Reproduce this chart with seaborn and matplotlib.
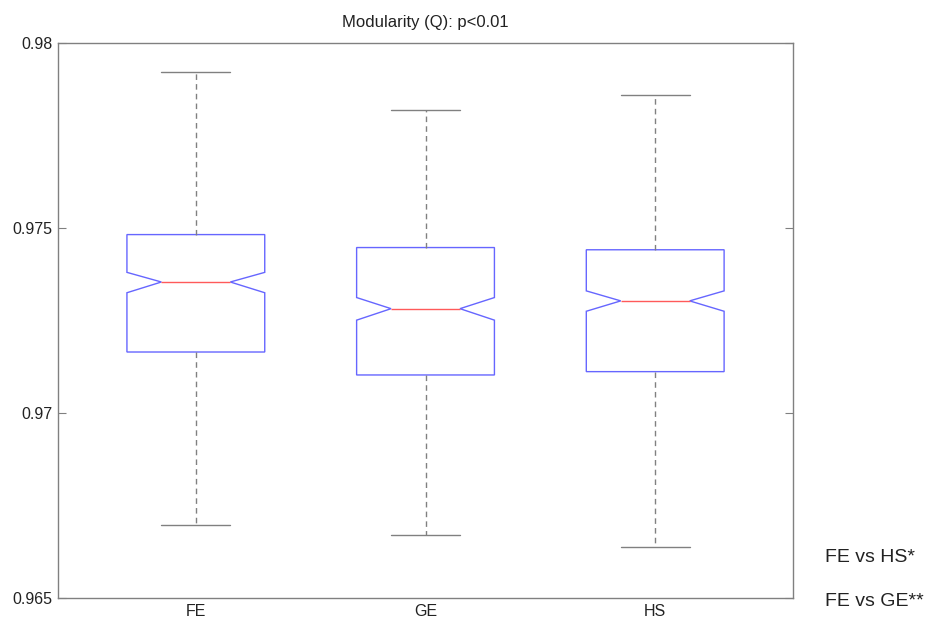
import numpy as np
import pandas as pd
import matplotlib
matplotlib.use("Agg")
import matplotlib.pyplot as plt
import seaborn as sns
from matplotlib.patches import PathPatch

# ---- data ----
groups = ["FE", "GE", "HS"]
whisker_low = [0.96698, 0.96672, 0.96638]
q1 = [0.97165, 0.97103, 0.97112]
median = [0.97354, 0.97282, 0.97303]
q3 = [0.97482, 0.97447, 0.97441]
whisker_high = [0.97921, 0.97817, 0.97859]
notch_low = [0.97325, 0.97251, 0.97275]
notch_high = [0.97380, 0.97312, 0.97330]
y_ticks = [0.965, 0.97, 0.975, 0.98]
y_tick_labels = ["0.965", "0.97", "0.975", "0.98"]
title = "Modularity (Q): p<0.01"
notes = ["FE vs HS*", "FE vs GE**"]

rows = []
for g, a, b, c, d, e in zip(groups, whisker_low, q1, median, q3, whisker_high):
    for v in (a, b, c, d, e):
        rows.append({"group": g, "Q": v})
df = pd.DataFrame(rows)

sns.set_style("white")
plt.rcParams["font.family"] = ["Liberation Sans", "DejaVu Sans"]

GRAY = "#808080"
BLUE = "#6666ff"
RED = "#ff5a5a"

fig = plt.figure(figsize=(9.30, 6.19), dpi=100)
ax = fig.add_axes([0.0624, 0.0334, 0.7903, 0.8976])

sns.boxplot(
    data=df, x="group", y="Q", order=groups, ax=ax,
    whis=(0, 100), width=0.6, fill=True, shownotches=True,
    boxprops=dict(facecolor="white", edgecolor=BLUE, linewidth=1.0),
    medianprops=dict(color=RED, linewidth=1.0),
    whiskerprops=dict(color=GRAY, linewidth=1.0, linestyle=(0, (4, 3))),
    capprops=dict(color=GRAY, linewidth=1.0),
    showfliers=False,
)

# set the notch (confidence interval) extents
boxes = [p for p in ax.patches if isinstance(p, PathPatch)]
for patch, lo, hi in zip(boxes, notch_low, notch_high):
    verts = patch.get_path().vertices
    verts[2, 1] = lo
    verts[9, 1] = lo
    verts[4, 1] = hi
    verts[7, 1] = hi

ax.set_xlim(-0.6, 2.6)
ax.set_ylim(0.965, 0.98)
ax.set_yticks(y_ticks)
ax.set_yticklabels(y_tick_labels)
ax.set_xlabel("")
ax.set_ylabel("")
ax.tick_params(axis="y", direction="in", length=6, width=0.8, color=GRAY,
               left=True, right=True, labelsize=11.5, pad=4, labelcolor="#222222")
ax.tick_params(axis="x", length=0, labelsize=11.5, pad=4, labelcolor="#222222")
for s in ax.spines.values():
    s.set_visible(True)
    s.set_color(GRAY)
    s.set_linewidth(1.0)

ax.set_title(title, fontsize=12, color="#222222", pad=11)

fig.text(825 / 930, 1 - 558 / 619, notes[0], fontsize=14, va="center", ha="left", color="#222222")
fig.text(825 / 930, 1 - 601 / 619, notes[1], fontsize=14, va="center", ha="left", color="#222222")

fig.savefig("out.png", dpi=100)
